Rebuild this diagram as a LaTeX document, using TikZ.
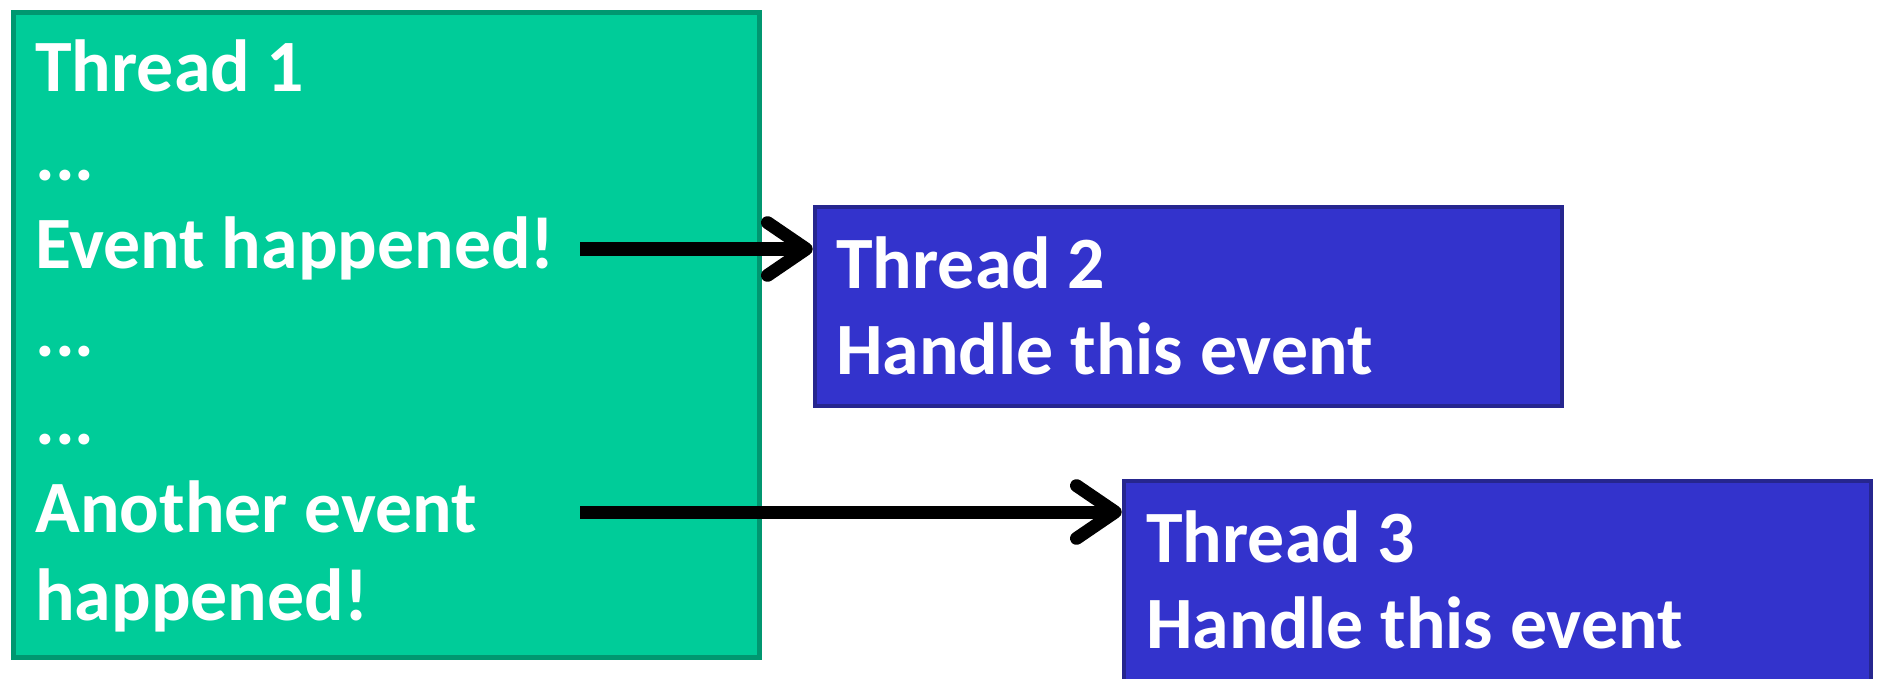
\documentclass[tikz,border=0pt]{standalone}
\usepackage{fontspec}
\setmainfont{Carlito}
\usepackage{tikz}
\usetikzlibrary{arrows.meta,fit}
\definecolor{thrgreen}{HTML}{00CC99}
\definecolor{thrgreenedge}{HTML}{009770}
\definecolor{thrblue}{HTML}{3333CC}
\definecolor{thrblueedge}{HTML}{26268F}
\tikzset{
  greenbox/.style={fill=thrgreen, draw=thrgreenedge, line width=2.9pt, inner sep=0pt},
  bluebox/.style={fill=thrblue, draw=thrblueedge, line width=2.6pt, inner sep=0pt},
  txt/.style={text=white, font=\fontsize{42}{48}\selectfont\bfseries, inner sep=0pt, anchor=base west},
  arr/.style={line width=7.4pt, -{Straight Barb[length=22pt, width=30pt, round]}}
}

\begin{document}
\begin{tikzpicture}[x=0.02cm, y=-0.02cm]
  \useasboundingbox (0, 0) rectangle (1881, 679);
  % the three thread boxes
  \node (T1) [greenbox, fit={(13.5, 12.5) (759.5, 657.5)}] {};
  \node (T2) [bluebox, fit={(815, 207) (1562, 406)}] {};
  \node (T3) [bluebox, fit={(1124, 481) (1871, 700)}] {};
  % text of thread 1
  \node (L1) [txt] at (35, 92) {Thread 1};
  \node (L2) [txt] at (35, 180) {...};
  \node (L3) [txt] at (35, 268) {Event happened!};
  \node (L4) [txt] at (35, 356) {...};
  \node (L5) [txt] at (35, 444) {...};
  \node (L6) [txt] at (35, 532) {Another event};
  \node (L7) [txt] at (35, 620) {happened!};
  % text of threads 2 and 3
  \node (A1) [txt] at (836, 288) {Thread 2};
  \node (A2) [txt] at (836, 374) {Handle this event};
  \node (B1) [txt] at (1146, 562) {Thread 3};
  \node (B2) [txt] at (1146, 648) {Handle this event};
  % hand the events over
  \coordinate (E1) at (580, 249);
  \coordinate (E2) at (580, 512);
  \draw [arr] (E1) -- (E1 -| T2.west);
  \draw [arr] (E2) -- (E2 -| T3.west);
\end{tikzpicture}
\end{document}
